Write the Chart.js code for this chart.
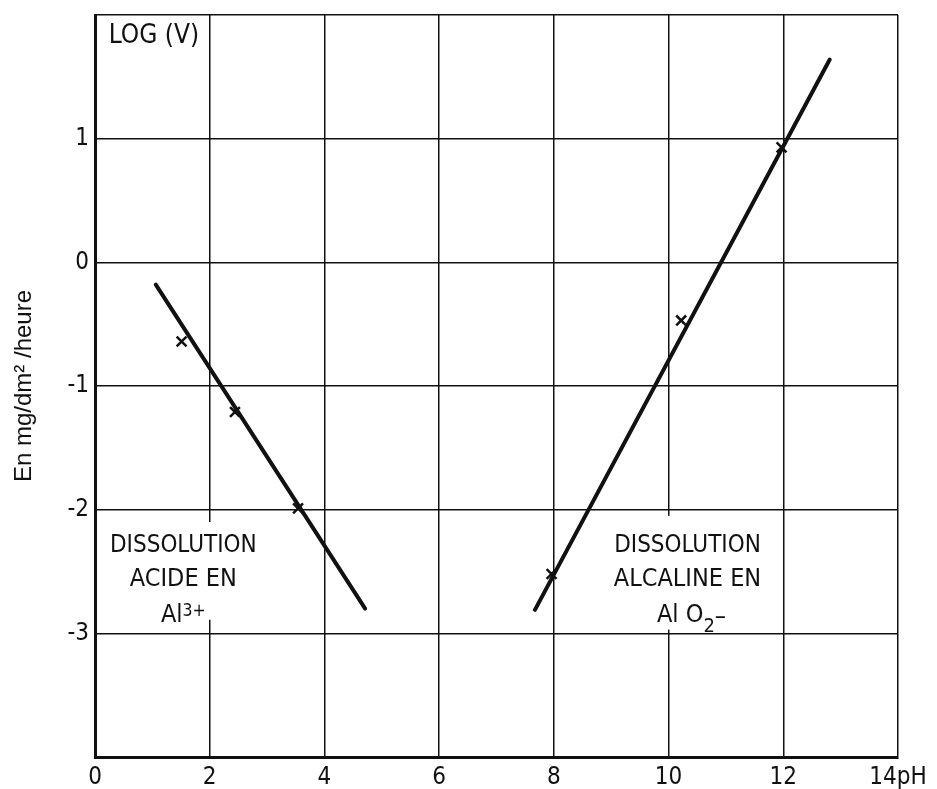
<!DOCTYPE html>
<html>
<head>
<meta charset="utf-8">
<title>LOG (V) - dissolution en fonction du pH</title>
<script src="https://cdn.jsdelivr.net/npm/chart.js@4.4.1/dist/chart.umd.min.js"></script>
<style>
  body { margin: 0; background: #fff; }
</style>
</head>
<body>
<canvas id="myChart" width="937" height="789"></canvas>
<script>
//! DATA

// measured points (crosses)
const acidPh = [1.51, 2.44, 3.54];
const acidLog = [-0.64, -1.21, -1.99];
const alkPh = [7.96, 10.22, 11.97];
const alkLog = [-2.52, -0.47, 0.93];

// fitted lines, end points
const acidFitPh = [1.06, 4.71];
const acidFitLog = [-0.18, -2.8];
const alkFitPh = [7.67, 12.81];
const alkFitLog = [-2.81, 1.64];

// axes
const xTickValues = [0, 2, 4, 6, 8, 10, 12, 14];
const yTickValues = [-4, -3, -2, -1, 0, 1, 2];
const yTickLabels = [-3, -2, -1, 0, 1];

(() => {
  //! VARIABLES

  const ctx = document.getElementById("myChart");
  const ink = "#111";
  const LETTER = "'Liberation Sans Narrow', 'DejaVu Sans Condensed', sans-serif";

  // annotation text, placed in data units
  const notes = [
    { x: 0.24, y: 1.77, size: 26, align: "left", parts: [["LOG (V)", 0, 1]] },
    { x: 1.54, y: -2.34, size: 24, parts: [["DISSOLUTION", 0, 1]] },
    { x: 1.54, y: -2.62, size: 25, parts: [["ACIDE EN", 0, 1]] },
    { x: 1.54, y: -2.91, size: 25, parts: [["Al", 0, 1], ["3+", -6, 0.7]] },
    { x: 10.33, y: -2.34, size: 24, parts: [["DISSOLUTION", 0, 1]] },
    { x: 10.33, y: -2.62, size: 25, parts: [["ALCALINE EN", 0, 1]] },
    { x: 10.4, y: -2.91, size: 25, parts: [["Al O", 0, 1], ["2", 10, 0.8], ["\u2013", 2, 1]] }
  ];

  // white boxes where the grid is broken behind the text
  const masks = [
    { x0: 0.17, x1: 2.91, y0: -2.1, y1: -2.89 },
    { x0: 8.89, x1: 11.77, y0: -2.05, y1: -2.97 }
  ];

  //! FUNCTIONS

  const toPoints = (xs, ys) => xs.map((x, i) => ({ x: x, y: ys[i] }));
  const font = size => size + "px " + LETTER;

  // draw one line of text made of normal / raised / lowered parts
  function drawNote(c, note, xs, ys) {
    let total = 0;
    note.parts.forEach(p => {
      c.font = font(note.size * p[2]);
      total += c.measureText(p[0]).width;
    });
    let px = xs.getPixelForValue(note.x);
    if (note.align !== "left") px -= total / 2;
    const py = ys.getPixelForValue(note.y);
    c.textAlign = "left";
    c.textBaseline = "alphabetic";
    note.parts.forEach(p => {
      c.font = font(note.size * p[2]);
      c.fillText(p[0], px, py + p[1]);
      px += c.measureText(p[0]).width;
    });
  }

  const notesPlugin = {
    id: "notes",
    beforeDatasetsDraw(chart) {
      const { ctx: c, scales: { x, y } } = chart;
      c.save();
      c.fillStyle = "#fff";
      masks.forEach(m => {
        const l = x.getPixelForValue(m.x0);
        const t = y.getPixelForValue(m.y0);
        c.fillRect(l, t, x.getPixelForValue(m.x1) - l, y.getPixelForValue(m.y1) - t);
      });
      c.restore();
    },
    afterDatasetsDraw(chart) {
      const { ctx: c, scales: { x, y } } = chart;
      c.save();
      c.fillStyle = ink;
      notes.forEach(n => drawNote(c, n, x, y));
      c.restore();
    }
  };

  new Chart(ctx, {
    type: "scatter",
    data: {
      datasets: [
        {
          data: toPoints(acidFitPh, acidFitLog),
          showLine: true,
          borderColor: ink,
          borderWidth: 4,
          borderCapStyle: "round",
          pointRadius: 0
        },
        {
          data: toPoints(alkFitPh, alkFitLog),
          showLine: true,
          borderColor: ink,
          borderWidth: 4,
          borderCapStyle: "round",
          pointRadius: 0
        },
        {
          data: toPoints(acidPh, acidLog),
          pointStyle: "crossRot",
          pointRadius: 7,
          borderWidth: 2.5,
          borderColor: ink
        },
        {
          data: toPoints(alkPh, alkLog),
          pointStyle: "crossRot",
          pointRadius: 7,
          borderWidth: 2.5,
          borderColor: ink
        }
      ]
    },
    options: {
      responsive: false,
      animation: false,
      layout: { padding: { top: 15, right: 39, left: 0, bottom: 0 } },
      plugins: {
        legend: { display: false },
        tooltip: { enabled: false }
      },
      scales: {
        x: {
          type: "linear",
          min: 0,
          max: 14,
          afterBuildTicks: s => { s.ticks = xTickValues.map(v => ({ value: v })); },
          afterFit: s => {
            s.height = 32;
            s.paddingLeft = 0;
            s.paddingRight = 0;
          },
          grid: { color: ink, lineWidth: 1.5, drawTicks: false },
          border: { color: ink, width: 3 },
          ticks: {
            color: ink,
            padding: 6,
            maxRotation: 0,
            font: { family: LETTER, size: 24 },
            callback: v => (v === 14 ? "14pH" : String(v))
          }
        },
        y: {
          type: "linear",
          min: -4,
          max: 2,
          afterBuildTicks: s => { s.ticks = yTickValues.map(v => ({ value: v })); },
          afterFit: s => {
            s.width = 95;
            s.paddingTop = 0;
            s.paddingBottom = 0;
          },
          grid: { color: ink, lineWidth: 1.5, drawTicks: false },
          border: { color: ink, width: 3 },
          ticks: {
            color: ink,
            padding: 6,
            font: { family: LETTER, size: 24 },
            callback: v => (yTickLabels.includes(v) ? String(v) : "")
          },
          title: {
            display: true,
            text: "En mg/dm\u00b2 /heure",
            color: ink,
            font: { family: "'Liberation Sans', Arial, sans-serif", size: 24 },
            padding: { top: 10, bottom: 0 }
          }
        }
      }
    },
    plugins: [notesPlugin]
  });
})();
</script>
</body>
</html>
